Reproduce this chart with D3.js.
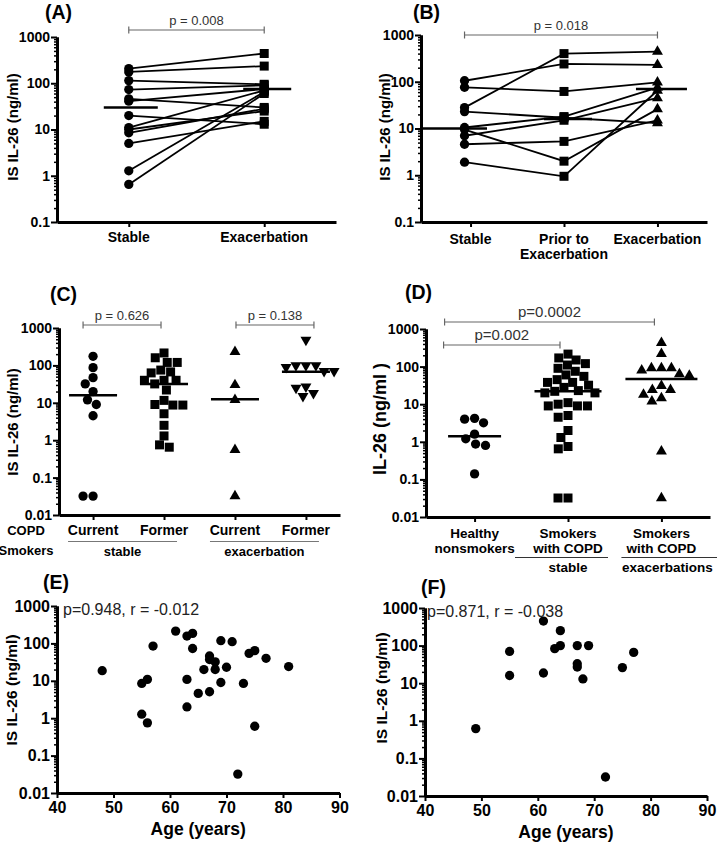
<!DOCTYPE html>
<html>
<head>
<meta charset="utf-8">
<script src="https://cdn.jsdelivr.net/npm/d3@7"></script>
<style>
body { margin: 0; background: #fff; }
text { font-family: "Liberation Sans", Arial, sans-serif; }
.axis text { font-weight: bold; font-size: 14px; fill: #000; }
.axis .domain { stroke: #000; stroke-width: 3; }
.axis line { stroke: #000; stroke-width: 2; }
.minor line { stroke-width: 1.5; }
.big text { font-size: 16px; }
</style>
</head>
<body>
<div id="chart"></div>
<script>
// ---- data (ng/ml) ----
// (A) paired stable vs exacerbation
const aStable = [207, 176, 114, 73, 46, 41, 20, 11, 10, 8.5, 5, 1.28, 0.65];
const aExac   = [440, 235, 95, 90, 30, 75, 13, 70, 25, 28, 15, 65, 60];
const aMedian = [30, 75];
const aCats = ["Stable", "Exacerbation"];

// (B) stable / prior / exacerbation
const bStable = [28, 105, 76, 23, 10.5, 7, 9.5, 4.6, 1.9];
const bPrior  = [400, 240, 62, 17, 18, 15, 2, 5.3, 0.95];
const bExac   = [440, 230, 97, 13, 75, 45, 26, 15, 65];
const bMedian = [10, 16, 70];
const bCats = [["Stable"], ["Prior to", "Exacerbation"], ["Exacerbation"]];

// (C) current / former smokers
const cCurStable = [175, 87, 47, 32, 20, 12, 9, 4.5, 0.032, 0.032];
const cFormStable = [215, 160, 120, 120, 67, 63, 75, 40, 40, 40, 32, 22, 11.6, 8.7, 8.7, 9, 5.1, 2.5, 1.3, 0.75, 0.65];
const cCurExac = [230, 30, 12, 0.55, 0.032];
const cFormExac = [480, 100, 100, 90, 100, 70, 70, 25, 27, 15, 18];
const cMedian = [16, 32, 12.5, 68];
const cCats = ["Current", "Former", "Current", "Former"];

// (D) healthy vs COPD
const dHealthy = [4.0, 4.2, 3.2, 1.6, 1.2, 0.87, 0.8, 0.14];
const dStable = [215, 170, 150, 120, 110, 90, 75, 60, 55, 45, 38, 38, 32, 28, 23, 22, 20, 20, 11, 10, 9, 9, 9, 5, 4.5, 2, 1.3, 0.75, 0.65, 0.032, 0.032];
const dExac = [427, 220, 91, 79, 91, 91, 58, 63, 31, 24, 24, 18, 14.5, 12, 0.56, 0.032];
const dMedian = [1.4, 22, 47];
const dCats = [["Healthy", "nonsmokers"], ["Smokers", "with COPD"], ["Smokers", "with COPD"]];

// (E) age vs IL-26, stable
const eAge = [48, 55, 56, 57, 55, 56, 61, 63, 64, 64, 63, 63, 65, 66, 67, 67, 67, 68, 68, 69, 69, 70, 71, 72, 73, 74, 75, 75, 77, 81];
const eVal = [18.6, 8.5, 10.9, 85, 1.28, 0.75, 213, 157, 185, 73, 10.9, 2.0, 4.6, 20, 46, 37, 5.1, 32, 20, 118, 9, 23, 111, 0.032, 8.5, 54, 64, 0.61, 40, 24];

// (F) age vs IL-26, exacerbation
const fAge = [49, 55, 55, 61, 61, 63, 64, 64, 67, 67, 67, 68, 69, 72, 75, 77];
const fVal = [0.62, 70, 16, 450, 18.7, 83, 250, 100, 100, 33, 27, 13, 100, 0.032, 26, 66];

const ticks3 = [0.1, 1, 10, 100, 1000];
const ticks5 = [0.01, 0.1, 1, 10, 100, 1000];
const ageTicks = [40, 50, 60, 70, 80, 90];

const width = 717, height = 843;
const svg = d3.select("#chart").append("svg")
    .attr("width", width)
    .attr("height", height);

const symCircle = d3.symbol().type(d3.symbolCircle).size(68)();
const symSquare = d3.symbol().type(d3.symbolSquare).size(81)();
const symTri = d3.symbol().type(d3.symbolTriangle).size(52)();

//log y axis with minor ticks
function logAxis(y, x0, majors, cls) {
    let minors = [];
    majors.slice(0, -1).forEach(m => { for (let k = 2; k < 10; k++) minors.push(m * k); });
    svg.append("g").attr("class", "axis minor")
        .attr("transform", "translate(" + x0 + ",0)")
        .call(d3.axisLeft(y).tickValues(minors).tickSize(3).tickSizeOuter(0).tickFormat(""));
    svg.append("g").attr("class", "axis " + (cls || ""))
        .attr("transform", "translate(" + x0 + ",0)")
        .call(d3.axisLeft(y).tickValues(majors).tickSize(6).tickSizeOuter(0).tickPadding(1)
            .tickFormat(d => String(d)));
}

function catAxis(x, yb) {
    svg.append("g").attr("class", "axis")
        .attr("transform", "translate(0," + yb + ")")
        .call(d3.axisBottom(x).tickSize(5).tickSizeOuter(0).tickFormat(""));
}

function yTitle(txt, cx, cy, size) {
    svg.append("text")
        .attr("transform", "translate(" + cx + "," + cy + ") rotate(-90)")
        .attr("text-anchor", "middle")
        .attr("dy", "0.35em")
        .style("font-weight", "bold")
        .style("font-size", size + "px")
        .text(txt);
}

function panelLabel(txt, x, y) {
    svg.append("text").attr("x", x).attr("y", y)
        .style("font-weight", "bold").style("font-size", "19.5px")
        .text(txt);
}

function bracket(x1, x2, yb, label, size) {
    let g = svg.append("g").attr("stroke", "#666").attr("stroke-width", 1.2);
    g.append("line").attr("x1", x1).attr("x2", x2).attr("y1", yb).attr("y2", yb);
    g.append("line").attr("x1", x1).attr("x2", x1).attr("y1", yb - 3.5).attr("y2", yb + 3.5);
    g.append("line").attr("x1", x2).attr("x2", x2).attr("y1", yb - 3.5).attr("y2", yb + 3.5);
    svg.append("text").attr("x", (x1 + x2) / 2).attr("y", yb - 5)
        .attr("text-anchor", "middle")
        .style("font-size", size + "px").attr("fill", "#333")
        .text(label);
}

function median(cx, yv, w) {
    svg.append("line")
        .attr("x1", cx - w / 2).attr("x2", cx + w / 2)
        .attr("y1", yv).attr("y2", yv)
        .attr("stroke", "#000").attr("stroke-width", 2.5);
}

function markers(pts, sym, rot) {
    svg.selectAll(null).data(pts).enter().append("path")
        .attr("d", sym)
        .attr("transform", d => "translate(" + d[0] + "," + d[1] + ")" + (rot ? " rotate(180)" : ""))
        .attr("fill", "#000");
}

function catLabels(x, keys, lines, y0, lh, size) {
    keys.forEach((k, i) => {
        let t = svg.append("text").attr("text-anchor", "middle")
            .style("font-weight", "bold").style("font-size", size + "px");
        [].concat(lines[i]).forEach((s, j) => {
            t.append("tspan").attr("x", x(k)).attr("y", y0 + j * lh).text(s);
        });
    });
}

// simple beeswarm, like the prism scatter dot plot
function swarm(vals, y, r) {
    let pts = vals.map((v, i) => ({ i: i, y: y(v), dx: 0 }));
    let order = pts.slice().sort((a, b) => a.y - b.y);
    let placed = [];
    order.forEach(p => {
        let cands = [0];
        placed.forEach(q => {
            let dy = Math.abs(p.y - q.y);
            if (dy < 2 * r) {
                let dx = Math.sqrt(4 * r * r - dy * dy);
                cands.push(q.dx - dx, q.dx + dx);
            }
        });
        cands.sort((a, b) => Math.abs(a) - Math.abs(b));
        for (let c of cands) {
            if (placed.every(q => (q.dx - c) ** 2 + (q.y - p.y) ** 2 >= 4 * r * r - 0.01)) { p.dx = c; break; }
        }
        placed.push(p);
    });
    return pts.map(p => p.dx);
}

// ================= (A) =================
(function() {
    let y = d3.scaleLog().domain([0.1, 1000]).range([222, 37]);
    let x = d3.scalePoint().domain(aCats).range([57, 336]).padding(0.53);
    catAxis(x, 222);
    logAxis(y, 57, ticks3);
    aStable.forEach((v, i) => {
        svg.append("line")
            .attr("x1", x(aCats[0])).attr("y1", y(v))
            .attr("x2", x(aCats[1])).attr("y2", y(aExac[i]))
            .attr("stroke", "#000").attr("stroke-width", 1.8);
    });
    markers(aStable.map(v => [x(aCats[0]), y(v)]), symCircle);
    markers(aExac.map(v => [x(aCats[1]), y(v)]), symSquare);
    median(x(aCats[0]) + 2, y(aMedian[0]), 54);
    median(x(aCats[1]) + 3, y(aMedian[1]), 48);
    catLabels(x, aCats, aCats, 242, 15, 14);
    yTitle("IS IL-26 (ng/ml)", 13, 127, 15);
    panelLabel("(A)", 45, 19);
    bracket(x(aCats[0]), x(aCats[1]), 30, "p = 0.008", 13);
})();

// ================= (B) =================
(function() {
    let keys = d3.range(bCats.length);
    let y = d3.scaleLog().domain([0.1, 1000]).range([222, 35]);
    let x = d3.scalePoint().domain(keys).range([421, 707]).padding(0.53);
    catAxis(x, 222);
    logAxis(y, 421, ticks3);
    let cols = [bStable, bPrior, bExac];
    let px = k => x(k) - (k === 0 ? 6 : 0);
    bStable.forEach((v, i) => {
        let line = d3.line().x(d => px(d)).y(d => y(cols[d][i]));
        svg.append("path").attr("d", line(keys))
            .attr("fill", "none").attr("stroke", "#000").attr("stroke-width", 1.8);
    });
    markers(bStable.map(v => [px(0), y(v)]), symCircle);
    markers(bPrior.map(v => [px(1), y(v)]), symSquare);
    markers(bExac.map(v => [px(2), y(v)]), symTri);
    median(455, y(bMedian[0]), 64);
    median(px(1) + 4, y(bMedian[1]), 48);
    median(px(2) + 4, y(bMedian[2]), 51);
    catLabels(x, keys, bCats, 244, 15, 14);
    yTitle("IS IL-26 (ng/ml)", 385, 127, 15);
    panelLabel("(B)", 413, 19);
    bracket(px(0), px(2), 35, "p = 0.018", 13);
})();

// ================= (C) =================
(function() {
    let keys = d3.range(cCats.length);
    let y = d3.scaleLog().domain([0.01, 1000]).range([515, 328]);
    let x = d3.scalePoint().domain(keys).range([59, 340]).padding(0.48);
    catAxis(x, 515);
    logAxis(y, 59, ticks5);
    let groups = [cCurStable, cFormStable, cCurExac, cFormExac];
    let syms = [symCircle, symSquare, symTri, symTri];
    groups.forEach((g, k) => {
        let off = swarm(g, y, 5);
        markers(g.map((v, i) => [x(k) + off[i], y(v)]), syms[k], k === 3);
        median(x(k), y(cMedian[k]), 48);
    });
    catLabels(x, keys, cCats, 535, 15, 14);
    svg.append("text").attr("text-anchor", "middle")
        .style("font-weight", "bold").style("font-size", "13px")
        .selectAll("tspan").data(["COPD", "Smokers"]).enter().append("tspan")
        .attr("x", 26).attr("y", (d, i) => 535 + i * 20).text(d => d);
    [[0, 1, "stable"], [2, 3, "exacerbation"]].forEach(s => {
        let x1 = x(s[0]) - 25, x2 = x(s[1]) + 13;
        svg.append("line").attr("x1", x1).attr("x2", x2).attr("y1", 541.5).attr("y2", 541.5)
            .attr("stroke", "#777").attr("stroke-width", 1);
        svg.append("text").attr("x", (x1 + x2) / 2).attr("y", 556).attr("text-anchor", "middle")
            .style("font-weight", "bold").style("font-size", "13px").text(s[2]);
    });
    yTitle("IS IL-26 (ng/ml)", 13, 422, 15);
    panelLabel("(C)", 50, 301);
    bracket(x(0) - 10, x(1) - 3, 325, "p = 0.626", 13);
    bracket(x(2) + 1, x(3) + 8, 325, "p = 0.138", 13);
})();

// ================= (D) =================
(function() {
    let keys = d3.range(dCats.length);
    let y = d3.scaleLog().domain([0.01, 1000]).range([517, 329]);
    let x = d3.scalePoint().domain(keys).range([426, 710]).padding(0.52);
    catAxis(x, 517);
    logAxis(y, 426, ticks5);
    let groups = [dHealthy, dStable, dExac];
    let syms = [symCircle, symSquare, symTri];
    let mw = [53, 67, 72];
    groups.forEach((g, k) => {
        let off = swarm(g, y, 5);
        markers(g.map((v, i) => [x(k) + off[i], y(v)]), syms[k]);
        median(x(k), y(dMedian[k]), mw[k]);
    });
    catLabels(x, keys, dCats, 538, 15, 13.5);
    [[1, -53, 40, "stable"], [2, -40, 56, "exacerbations"]].forEach(s => {
        let x1 = x(s[0]) + s[1], x2 = x(s[0]) + s[2];
        svg.append("line").attr("x1", x1).attr("x2", x2).attr("y1", 557.5).attr("y2", 557.5)
            .attr("stroke", "#333").attr("stroke-width", 1);
        svg.append("text").attr("x", x(s[0]) + (s[0] === 2 ? 6 : 0)).attr("y", 572).attr("text-anchor", "middle")
            .style("font-weight", "bold").style("font-size", "13.5px").text(s[3]);
    });
    yTitle("IL-26 (ng/ml )", 380, 419, 18);
    panelLabel("(D)", 405, 299);
    bracket(x(0) - 30, x(2) - 7, 322, "p=0.0002", 15);
    bracket(x(0) - 31, x(1) - 8, 345, "p=0.002", 15);
})();

// ================= (E) & (F) =================
function agePanel(ages, vals, x0, x1, yTop, yBot, label, lx, ly, note, tx) {
    let y = d3.scaleLog().domain([0.01, 1000]).range([yBot, yTop]);
    let x = d3.scaleLinear().domain([40, 90]).range([x0, x1]);
    svg.append("g").attr("class", "axis big")
        .attr("transform", "translate(0," + yBot + ")")
        .call(d3.axisBottom(x).tickValues(ageTicks).tickSize(5).tickSizeOuter(0).tickPadding(4));
    logAxis(y, x0, ticks5, "big");
    markers(ages.map((a, i) => [x(a), y(vals[i])]), symCircle);
    svg.append("text").attr("x", (x0 + x1) / 2).attr("y", yBot + 42).attr("text-anchor", "middle")
        .style("font-weight", "bold").style("font-size", "17.5px").text("Age (years)");
    svg.append("text").attr("x", tx).attr("y", yTop + 9)
        .style("font-size", "16px").attr("fill", "#222").text(note);
    panelLabel(label, lx, ly);
}

agePanel(eAge, eVal, 57, 339.5, 606, 793, "(E)", 43, 589, "p=0.948, r = -0.012", 63);
yTitle("IS IL-26 (ng/ml)", 12, 690, 15.5);
agePanel(fAge, fVal, 425, 707, 608, 796, "(F)", 421, 594, "p=0.871, r = -0.038", 427);
yTitle("IS IL-26 (ng/ml)", 382, 688, 15.5);
</script>
</body>
</html>
